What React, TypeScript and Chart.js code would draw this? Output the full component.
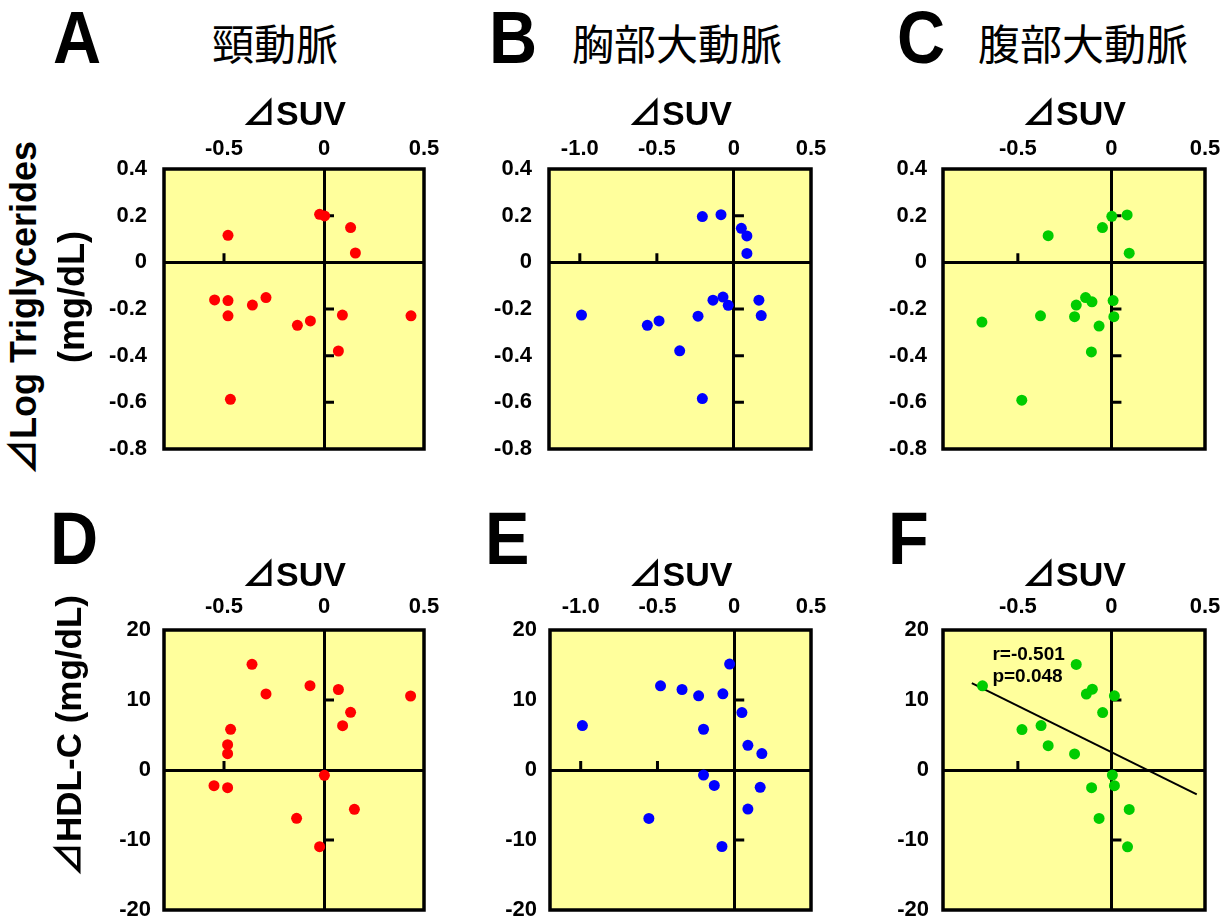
import React, { useEffect, useRef } from 'react';
import { Chart, registerables } from 'chart.js';

Chart.register(...registerables);

const FONT = "'Liberation Sans', Arial, Helvetica, sans-serif";
const FONT_TRI = "'Liberation Sans', 'Noto Sans CJK JP', sans-serif";
const CJK = "'Noto Sans CJK JP', 'Noto Sans CJK SC', sans-serif";

// ---------------- data ----------------
// A: carotid artery, ΔSUV vs ΔLog Triglycerides
const carotidSuvTG = [-0.022, 0.003, 0.133, 0.157, -0.48, -0.547, -0.48, -0.358, -0.29, -0.48, -0.133, -0.068, 0.092, 0.435, 0.072, -0.468];
const carotidTG = [0.206, 0.199, 0.149, 0.04, 0.116, -0.161, -0.164, -0.183, -0.151, -0.229, -0.27, -0.251, -0.226, -0.229, -0.38, -0.587];
// B: thoracic aorta
const thoracicSuvTG = [-0.205, -0.084, 0.048, 0.084, 0.084, -0.989, -0.562, -0.486, -0.233, -0.352, -0.205, -0.136, -0.071, -0.037, 0.162, 0.177];
const thoracicTG = [0.196, 0.204, 0.146, 0.113, 0.038, -0.226, -0.27, -0.251, -0.231, -0.379, -0.584, -0.162, -0.149, -0.184, -0.162, -0.228];
// C: abdominal aorta
const abdominalSuvTG = [0.002, 0.084, -0.048, -0.338, 0.095, -0.692, -0.379, -0.188, -0.197, -0.138, -0.104, 0.009, 0.013, -0.066, -0.107, -0.479];
const abdominalTG = [0.197, 0.203, 0.149, 0.114, 0.039, -0.256, -0.229, -0.183, -0.233, -0.151, -0.169, -0.164, -0.233, -0.273, -0.384, -0.591];
// D: carotid artery, ΔSUV vs ΔHDL-C
const carotidSuvHDL = [-0.36, -0.29, -0.07, 0.072, 0.433, 0.133, 0.093, -0.467, -0.482, -0.482, -0.55, -0.482, 0.002, 0.152, -0.137, -0.022];
const carotidHDL = [15.1, 10.86, 12.05, 11.5, 10.57, 8.24, 6.33, 5.81, 3.62, 2.33, -2.24, -2.52, -0.76, -5.62, -6.9, -10.95];
// E: thoracic aorta
const thoracicSuvHDL = [-0.03, -0.48, -0.34, -0.232, -0.074, -0.989, -0.2, 0.05, 0.089, 0.18, -0.2, -0.13, 0.169, 0.089, -0.556, -0.08];
const thoracicHDL = [15.13, 12.03, 11.5, 10.6, 10.88, 6.35, 5.82, 8.21, 3.53, 2.34, -0.72, -2.2, -2.48, -5.58, -6.92, -10.93];
// F: abdominal aorta
const abdominalSuvHDL = [-0.689, -0.188, -0.102, -0.134, 0.016, -0.047, -0.478, -0.376, -0.338, -0.197, 0.005, 0.016, -0.106, 0.095, -0.066, 0.086];
const abdominalHDL = [12.03, 15.08, 11.55, 10.84, 10.6, 8.21, 5.78, 6.35, 3.48, 2.29, -0.72, -2.24, -2.53, -5.63, -6.92, -10.98];
// F: regression line end points
const regLineSuv = [-0.746, 0.456];
const regLineHDL = [12.41, -3.48];
const regNote = ['r=-0.501', 'p=0.048'];
const regNoteSuv = -0.636;
const regNoteHDL = [16.5, 13.3];

// ticks
const xTicksNarrow = [-0.5, 0, 0.5];
const xLabelsNarrow = ['-0.5', '0', '0.5'];
const xTicksWide = [-1.0, -0.5, 0, 0.5];
const xLabelsWide = ['-1.0', '-0.5', '0', '0.5'];
const yTicksTG = [0.4, 0.2, 0, -0.2, -0.4, -0.6, -0.8];
const yLabelsTG = ['0.4', '0.2', '0', '-0.2', '-0.4', '-0.6', '-0.8'];
const yTicksHDL = [20, 10, 0, -10, -20];
const yLabelsHDL = ['20', '10', '0', '-10', '-20'];

// headings
const panelLetters = ['A', 'B', 'C', 'D', 'E', 'F'];
const panelTitles = ['頸動脈', '胸部大動脈', '腹部大動脈'];
const yTitleTG = ['⊿Log Triglycerides', '(mg/dL)'];
const yTitleHDL = '⊿HDL-C (mg/dL)';
const xTitle = '⊿SUV';

// ---------------- styles / layout ----------------
const RED = '#FF0000';
const BLUE = '#0000FF';
const GREEN = '#00CC00';
const PLOT_BG = '#FFFF9C';
const AXIS_W = 70;
const AXIS_H = 80;
const PAD_R = 27;
const PAD_B = 16;

type Box = { l: number; t: number; r: number; b: number };
type PanelCfg = {
  box: Box;
  xs: number[];
  ys: number[];
  color: string;
  xMin: number;
  xMax: number;
  xTicks: number[];
  xLabels: string[];
  yMin: number;
  yMax: number;
  yTicks: number[];
  yLabels: string[];
  xPad: number;
  yPad: number;
  reg?: boolean;
};

const panels: PanelCfg[] = [
  { box: { l: 164, t: 169, r: 424, b: 449 }, xs: carotidSuvTG, ys: carotidTG, color: RED, xMin: -0.8, xMax: 0.5, xTicks: xTicksNarrow, xLabels: xLabelsNarrow, yMin: -0.8, yMax: 0.4, yTicks: yTicksTG, yLabels: yLabelsTG, xPad: 7, yPad: 17 },
  { box: { l: 549, t: 169, r: 811, b: 449 }, xs: thoracicSuvTG, ys: thoracicTG, color: BLUE, xMin: -1.2, xMax: 0.5, xTicks: xTicksWide, xLabels: xLabelsWide, yMin: -0.8, yMax: 0.4, yTicks: yTicksTG, yLabels: yLabelsTG, xPad: 7, yPad: 17 },
  { box: { l: 943, t: 169, r: 1205, b: 449 }, xs: abdominalSuvTG, ys: abdominalTG, color: GREEN, xMin: -0.9, xMax: 0.5, xTicks: xTicksNarrow, xLabels: xLabelsNarrow, yMin: -0.8, yMax: 0.4, yTicks: yTicksTG, yLabels: yLabelsTG, xPad: 7, yPad: 16 },
  { box: { l: 164, t: 630, r: 424, b: 910 }, xs: carotidSuvHDL, ys: carotidHDL, color: RED, xMin: -0.8, xMax: 0.5, xTicks: xTicksNarrow, xLabels: xLabelsNarrow, yMin: -20, yMax: 20, yTicks: yTicksHDL, yLabels: yLabelsHDL, xPad: 10, yPad: 13 },
  { box: { l: 550, t: 630, r: 811, b: 910 }, xs: thoracicSuvHDL, ys: thoracicHDL, color: BLUE, xMin: -1.2, xMax: 0.5, xTicks: xTicksWide, xLabels: xLabelsWide, yMin: -20, yMax: 20, yTicks: yTicksHDL, yLabels: yLabelsHDL, xPad: 10, yPad: 13 },
  { box: { l: 943, t: 630, r: 1205, b: 910 }, xs: abdominalSuvHDL, ys: abdominalHDL, color: GREEN, xMin: -0.9, xMax: 0.5, xTicks: xTicksNarrow, xLabels: xLabelsNarrow, yMin: -20, yMax: 20, yTicks: yTicksHDL, yLabels: yLabelsHDL, xPad: 10, yPad: 14, reg: true },
];

// background, frame and small ticks on the inner (zero) axes
const framePlugin = {
  id: 'frame',
  beforeDraw(chart: any) {
    const { ctx, chartArea } = chart;
    const { left, top, right, bottom } = chartArea;
    ctx.save();
    ctx.fillStyle = PLOT_BG;
    ctx.fillRect(left, top, right - left, bottom - top);
    ctx.restore();
  },
  beforeDatasetsDraw(chart: any) {
    const { ctx, chartArea, scales } = chart;
    const x = scales.x;
    const y = scales.y;
    const x0 = x.getPixelForValue(0);
    const y0 = y.getPixelForValue(0);
    ctx.save();
    ctx.strokeStyle = '#000';
    ctx.lineWidth = 3;
    ctx.lineCap = 'butt';
    ctx.beginPath();
    y.ticks.forEach((t: any) => {
      if (t.value === 0 || t.value === y.min || t.value === y.max) return;
      const py = y.getPixelForValue(t.value);
      ctx.moveTo(x0, py);
      ctx.lineTo(x0 + 10, py);
    });
    x.ticks.forEach((t: any) => {
      if (t.value === 0 || t.value === x.min || t.value === x.max) return;
      const px = x.getPixelForValue(t.value);
      ctx.moveTo(px, y0);
      ctx.lineTo(px, y0 - 9);
    });
    ctx.stroke();
    ctx.lineWidth = 3.5;
    ctx.strokeRect(chartArea.left, chartArea.top, chartArea.right - chartArea.left, chartArea.bottom - chartArea.top);
    ctx.restore();
  },
};

const notePlugin = {
  id: 'regNote',
  afterDatasetsDraw(chart: any) {
    const { ctx, scales } = chart;
    ctx.save();
    ctx.fillStyle = '#000';
    ctx.font = `bold 19px ${FONT}`;
    ctx.textAlign = 'left';
    ctx.textBaseline = 'middle';
    regNote.forEach((txt, i) => {
      ctx.fillText(txt, scales.x.getPixelForValue(regNoteSuv), scales.y.getPixelForValue(regNoteHDL[i]));
    });
    ctx.restore();
  },
};

const gridColor = (c: any) => (c.tick && c.tick.value === 0 ? '#000' : 'rgba(0,0,0,0)');

function Panel({ cfg }: { cfg: PanelCfg }) {
  const ref = useRef<HTMLCanvasElement | null>(null);
  const { box } = cfg;
  const width = box.r - box.l + AXIS_W + PAD_R;
  const height = box.b - box.t + AXIS_H + PAD_B;

  useEffect(() => {
    if (!ref.current) return;
    const datasets: any[] = [
      {
        data: cfg.xs.map((x, i) => ({ x, y: cfg.ys[i] })),
        backgroundColor: cfg.color,
        borderWidth: 0,
        pointRadius: 5.5,
        pointHoverRadius: 5.5,
        order: 1,
      },
    ];
    if (cfg.reg) {
      datasets.push({
        data: regLineSuv.map((x, i) => ({ x, y: regLineHDL[i] })),
        showLine: true,
        borderColor: '#000',
        borderWidth: 2,
        pointRadius: 0,
        fill: false,
        order: 2,
      });
    }
    const chart = new Chart(ref.current, {
      type: 'scatter',
      data: { datasets },
      plugins: cfg.reg ? [framePlugin, notePlugin] : [framePlugin],
      options: {
        responsive: false,
        animation: false,
        events: [],
        layout: { padding: { left: 0, top: 0, right: PAD_R, bottom: PAD_B } },
        plugins: { legend: { display: false }, tooltip: { enabled: false } },
        scales: {
          x: {
            type: 'linear',
            position: 'top',
            min: cfg.xMin,
            max: cfg.xMax,
            afterBuildTicks: (s: any) => {
              s.ticks = cfg.xTicks.map((v) => ({ value: v }));
            },
            afterFit: (s: any) => {
              s.height = AXIS_H;
              s.paddingLeft = 0;
              s.paddingRight = 0;
            },
            ticks: {
              callback: (_v: any, i: number) => cfg.xLabels[i],
              font: { family: FONT, size: 22, weight: 'bold' },
              color: '#000',
              padding: cfg.xPad,
              autoSkip: false,
              maxRotation: 0,
            },
            grid: { color: gridColor, lineWidth: 3, drawTicks: false },
            border: { display: false },
            title: {
              display: true,
              text: xTitle,
              color: '#000',
              font: { family: FONT_TRI, size: 34, weight: 'bold' },
              padding: { top: 6, bottom: 0 },
            },
          },
          y: {
            type: 'linear',
            position: 'left',
            min: cfg.yMin,
            max: cfg.yMax,
            afterBuildTicks: (s: any) => {
              s.ticks = cfg.yTicks.map((v) => ({ value: v }));
            },
            afterFit: (s: any) => {
              s.width = AXIS_W;
              s.paddingTop = 0;
              s.paddingBottom = 0;
            },
            ticks: {
              callback: (_v: any, i: number) => cfg.yLabels[i],
              font: { family: FONT, size: 22, weight: 'bold' },
              color: '#000',
              padding: cfg.yPad,
              autoSkip: false,
            },
            grid: { color: gridColor, lineWidth: 3, drawTicks: false },
            border: { display: false },
          },
        },
      } as any,
    });
    return () => chart.destroy();
  }, [cfg]);

  return (
    <canvas
      ref={ref}
      width={width}
      height={height}
      style={{ position: 'absolute', left: box.l - AXIS_W, top: box.t - AXIS_H, width, height }}
    />
  );
}

const letterPos = [
  { left: 53, top: 1 },
  { left: 489, top: 1 },
  { left: 897, top: 1 },
  { left: 50, top: 502 },
  { left: 485, top: 502 },
  { left: 888, top: 502 },
];
const titlePos = [212, 572, 978];

function RotText({ text, cx, cy, size }: { text: string; cx: number; cy: number; size: number }) {
  return (
    <div
      style={{
        position: 'absolute',
        left: cx,
        top: cy,
        transform: 'translate(-50%, -50%) rotate(-90deg)',
        whiteSpace: 'nowrap',
        fontFamily: FONT_TRI,
        fontWeight: 'bold',
        fontSize: size,
        lineHeight: 1,
        color: '#000',
      }}
    >
      {text}
    </div>
  );
}

export default function App() {
  return (
    <div style={{ position: 'absolute', left: 0, top: 0, width: 1232, height: 924, background: '#fff', overflow: 'hidden' }}>
      {panels.map((p, i) => (
        <Panel key={i} cfg={p} />
      ))}
      {panelLetters.map((L, i) => (
        <div
          key={L}
          style={{
            position: 'absolute',
            left: letterPos[i].left,
            top: letterPos[i].top,
            fontFamily: FONT,
            fontWeight: 'bold',
            fontSize: 74,
            lineHeight: '74px',
            transform: 'scaleX(0.9)',
            transformOrigin: 'left top',
            color: '#000',
          }}
        >
          {L}
        </div>
      ))}
      {panelTitles.map((t, i) => (
        <div
          key={t}
          style={{
            position: 'absolute',
            left: titlePos[i],
            top: 21,
            fontFamily: CJK,
            fontWeight: 400,
            fontSize: 42,
            lineHeight: '42px',
            whiteSpace: 'nowrap',
            color: '#000',
          }}
        >
          {t}
        </div>
      ))}
      <RotText text={yTitleTG[0]} cx={24} cy={308} size={36} />
      <RotText text={yTitleTG[1]} cx={72} cy={297} size={36} />
      <RotText text={yTitleHDL} cx={68} cy={736} size={35} />
    </div>
  );
}
